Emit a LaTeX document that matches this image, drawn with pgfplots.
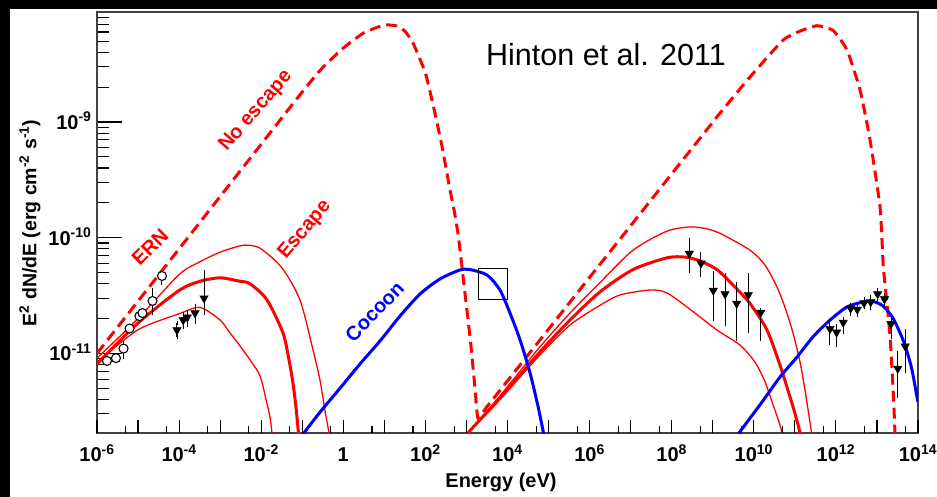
\documentclass[border=0pt]{standalone}
\usepackage{fontspec}
\setmainfont{Liberation Sans}
\usepackage{pgfplots}
\usepackage{pgfplotstable}
\pgfplotsset{compat=1.18}
\definecolor{rootred}{RGB}{255,0,0}
\definecolor{rootblue}{RGB}{0,0,255}
\newcommand{\tp}[1]{10\textsuperscript{#1}}

% data points: x y error+ error-
\pgfplotstableread{
x y ep em
1.75e-6 8.6e-12 0 0
2.90e-6 9.1e-12 0 0
4.43e-6 1.10e-11 1.2e-12 1.7e-12
6.19e-6 1.64e-11 0 0
1.08e-5 2.10e-11 0 0
1.28e-5 2.23e-11 0 0
2.25e-5 2.84e-11 6.9e-12 6.1e-12
3.83e-5 4.67e-11 2.0e-12 6.0e-12
}\circles
\pgfplotstableread{
x y ep em
8.89e-5 1.59e-11 2.4e-12 2.0e-12
1.26e-4 1.94e-11 2.5e-12 2.5e-12
1.58e-4 2.05e-11 2.0e-12 2.7e-12
2.44e-4 2.23e-11 3.4e-12 3.6e-12
4.05e-4 3.0e-11 2.05e-11 7.7e-12
2.69e8 7.3e-11 2.25e-11 2.1e-11
5.17e8 6.0e-11 1.2e-11 1.24e-11
1.03e9 3.5e-11 1.4e-11 1.5e-11
1.99e9 3.26e-11 1.44e-11 1.46e-11
3.83e9 2.7e-11 1.28e-11 1.35e-11
7.35e9 3.2e-11 1.56e-11 1.63e-11
1.47e10 2.25e-11 1.2e-12 9.0e-12
7.18e11 1.63e-11 2.7e-12 3.9e-12
1.04e12 1.52e-11 1.8e-12 3.3e-12
1.51e12 1.85e-11 1.3e-12 3.1e-12
2.29e12 2.45e-11 1.7e-12 2.3e-12
3.32e12 2.40e-11 1.7e-12 2.3e-12
4.84e12 2.73e-11 2.2e-12 2.1e-12
7.05e12 2.78e-11 2.9e-12 3.1e-12
1.04e13 3.26e-11 2.7e-12 3.7e-12
1.53e13 2.95e-11 2.5e-12 3.3e-12
2.20e13 1.80e-11 2.2e-12 4.1e-12
3.21e13 7.4e-12 2.6e-12 3.1e-12
4.88e13 1.15e-11 3.9e-12 4.4e-12
}\triangles

\begin{document}
\begin{tikzpicture}
\fill[white] (0pt,0pt) rectangle (937pt,497pt);
\fill[black] (0pt,0pt) rectangle (10pt,497pt);
\fill[black] (0pt,488pt) rectangle (937pt,497pt);

\begin{axis}[
  at={(97pt,64pt)}, anchor=south west,
  scale only axis, width=821pt, height=421pt,
  xmode=log, ymode=log,
  xmin=1e-6, xmax=1e14, ymin=2.05e-12, ymax=8.93e-9,
  axis line style={line width=1.4pt, draw=black!75},
  tick align=inside, tick pos=left,
  xtick=\empty,
  ytick={1e-11,1e-10,1e-9},
  yticklabels={\tp{-11},\tp{-10},\tp{-9}},
  minor ytick={3e-12,4e-12,5e-12,6e-12,7e-12,8e-12,9e-12,
    2e-11,3e-11,4e-11,5e-11,6e-11,7e-11,8e-11,9e-11,
    2e-10,3e-10,4e-10,5e-10,6e-10,7e-10,8e-10,9e-10,
    2e-9,3e-9,4e-9,5e-9,6e-9,7e-9,8e-9},
  major tick length=25pt, minor tick length=12pt,
  tick style={line width=1.1pt, black},
  yticklabel style={font=\bfseries\fontsize{20}{22}\selectfont, anchor=base east, xshift=-2pt, yshift=-7.5pt},
]
% No escape (dashed)
\addplot[rootred, line width=3pt, dash pattern=on 11pt off 6pt, smooth, tension=0.3] coordinates {
(1e-6,1.0e-11) (1e-5,2.83e-11) (1e-4,8.0e-11) (1e-3,2.27e-10) (1e-2,6.43e-10)
(0.1,1.82e-9) (0.3,2.9e-9) (1,4.36e-9) (3.16,5.9e-9) (10,6.9e-9) (20,6.76e-9)
(31.6,6.1e-9) (50,4.82e-9) (100,2.65e-9) (158,1.35e-9) (251,6.3e-10)
(398,2.58e-10) (501,1.73e-10) (631,1.05e-10) (794,5.26e-11) (1000,2.57e-11)
(1259,1.26e-11) (1585,5.4e-12) (1900,2.76e-12)
(3000,3.38e-12) (1e4,5.79e-12) (1e5,1.62e-11) (1e6,4.54e-11) (1e7,1.27e-10)
(1e8,3.56e-10) (1e9,9.95e-10) (1.27e9,1.11e-9) (8.07e9,2.45e-9) (5.14e10,5.1e-9)
(1.33e11,6.1e-9) (3.47e11,6.8e-9) (8.5e11,6.2e-9) (1.86e12,4.2e-9) (3.86e12,1.9e-9)
(6.78e12,7.0e-10) (1.19e13,1.84e-10) (1.43e13,5.6e-11) (1.76e13,2.7e-11)
(2.08e13,1.41e-11) (2.33e13,7.2e-12) (2.53e13,4.2e-12) (2.75e13,2.05e-12) (2.9e13,1.5e-12)
};
% synchrotron, upper thin
\addplot[rootred, line width=1.3pt, smooth, tension=0.45] coordinates {
(1e-6,9.1e-12) (1e-5,2.0e-11) (1e-4,4.8e-11) (3.23e-4,6.2e-11) (1e-3,7.5e-11)
(3.05e-3,8.5e-11) (5.33e-3,8.6e-11) (1e-2,8.0e-11) (0.032,5.5e-11) (0.088,2.9e-11)
(0.183,1.07e-11) (0.270,5.9e-12) (0.358,3.2e-12) (0.449,2.05e-12) (0.50,1.6e-12)
};
% synchrotron, thick
\addplot[rootred, line width=3pt, smooth, tension=0.45] coordinates {
(1e-6,8.1e-12) (1e-5,1.83e-11) (1e-4,3.5e-11) (3.23e-4,4.2e-11) (1e-3,4.5e-11)
(3.05e-3,4.2e-11) (5.33e-3,4.0e-11) (0.01384,2.9e-11) (0.034,1.5e-11)
(0.0475,8.8e-12) (0.0596,5.5e-12) (0.0705,3.4e-12) (0.081,2.05e-12) (0.088,1.6e-12)
};
% synchrotron, lower thin
\addplot[rootred, line width=1.3pt, smooth, tension=0.45] coordinates {
(1e-6,8.4e-12) (1e-5,1.6e-11) (1e-4,2.2e-11) (3.23e-4,2.5e-11) (1e-3,1.94e-11)
(1.74e-3,1.5e-11) (3.05e-3,1.16e-11) (5.33e-3,8.8e-12) (9.35e-3,6.4e-12)
(0.0131,4.0e-12) (0.0164,2.8e-12) (0.0183,2.05e-12) (0.0194,1.6e-12)
};
% IC, upper thin
\addplot[rootred, line width=1.3pt, smooth, tension=0.45] coordinates {
(975,1.78e-12) (1091,2.05e-12) (6560,4.3e-12) (6.19e4,1.14e-11) (3.33e5,2.23e-11)
(1.79e6,4.1e-11) (1.14e7,7.8e-11) (7.69e7,1.14e-10) (3.30e8,1.24e-10) (1.27e9,1.12e-10)
(8.07e9,7.8e-11) (1.87e10,5.8e-11) (3.67e10,3.75e-11) (5.75e10,2.5e-11) (9.02e10,1.5e-11)
(1.34e11,8.4e-12) (1.77e11,4.8e-12) (2.21e11,2.9e-12) (2.55e11,2.05e-12) (2.85e11,1.6e-12)
};
% IC, thick
\addplot[rootred, line width=3pt, smooth, tension=0.45] coordinates {
(975,1.78e-12) (1091,2.05e-12) (6560,4.1e-12) (6.19e4,1.03e-11) (3.33e5,1.94e-11)
(1.79e6,3.4e-11) (1.14e7,5.3e-11) (7.69e7,6.7e-11) (2.11e8,6.8e-11) (4.89e8,6.3e-11)
(1.27e9,5.3e-11) (3.11e9,3.9e-11) (8.07e9,2.7e-11) (2.10e10,1.59e-11) (4.35e10,7.9e-12)
(7.62e10,4.2e-12) (1.07e11,2.8e-12) (1.34e11,2.05e-12) (1.49e11,1.6e-12)
};
% IC, lower thin
\addplot[rootred, line width=1.3pt, smooth, tension=0.45] coordinates {
(975,1.78e-12) (1091,2.05e-12) (6560,4.0e-12) (6.19e4,9.7e-12) (3.33e5,1.76e-11)
(1.79e6,2.6e-11) (5.51e6,3.2e-11) (2.96e7,3.53e-11) (7.69e7,3.33e-11) (3.30e8,2.3e-11)
(1.27e9,1.59e-11) (4.61e9,1.18e-11) (1.07e10,8.4e-12) (1.87e10,5.7e-12) (2.94e10,3.6e-12)
(4.11e10,2.55e-12) (4.86e10,2.05e-12) (5.44e10,1.6e-12)
};
% Cocoon
\addplot[rootblue, line width=3pt, smooth, tension=0.45] coordinates {
(0.0986,1.9e-12) (0.110,2.05e-12) (0.270,3.1e-12) (0.832,5.0e-12) (2.55,8.1e-12)
(7.83,1.28e-11) (24.0,2.1e-11) (74.0,3.26e-11) (227,4.4e-11) (697,5.26e-11)
(1222,5.3e-11) (3170,4.76e-11) (6560,3.53e-11) (1.15e4,2.23e-11) (2.02e4,1.31e-11)
(3.53e4,6.8e-12) (5.53e4,3.5e-12) (7.53e4,2.05e-12) (8.2e4,1.75e-12)
};
\addplot[rootblue, line width=3pt, smooth, tension=0.45] coordinates {
(3.90e9,1.9e-12) (4.36e9,2.05e-12) (1.42e10,3.6e-12) (4.35e10,6.25e-12) (1.13e11,9.3e-12)
(2.77e11,1.39e-11) (7.18e11,1.94e-11) (1.86e12,2.52e-11) (4.57e12,2.78e-11)
(8.02e12,2.81e-11) (1.40e13,2.57e-11) (2.46e13,2.02e-11) (4.31e13,1.31e-11)
(5.70e13,9.7e-12) (7.14e13,7.2e-12) (9.46e13,4.2e-12) (1e14,3.8e-12)
};
% box
\addplot[black, line width=0.9pt, line join=miter] coordinates {
(1950,2.95e-11) (1e4,2.95e-11) (1e4,5.45e-11) (1950,5.45e-11) (1950,2.95e-11)
};
% error bars
\addplot[only marks, mark=none, error bars/.cd, y dir=both, y explicit,
  error bar style={line width=1pt, black},
  error mark options={line width=1pt, black, mark size=2.3pt}]
  table[x=x, y=y, y error plus=ep, y error minus=em] {\triangles};
\addplot[only marks, mark=none, error bars/.cd, y dir=both, y explicit,
  error bar style={line width=1pt, black},
  error mark options={line width=1pt, black, mark size=2.3pt}]
  table[x=x, y=y, y error plus=ep, y error minus=em] {\circles};
% markers
\addplot[only marks, mark=triangle*, mark size=4.8pt,
  mark options={rotate=180, fill=black, draw=black, line width=0.5pt}]
  table[x=x, y=y] {\triangles};
\addplot[only marks, mark=*, mark size=4.5pt,
  mark options={fill=white, draw=black, line width=1.1pt}]
  table[x=x, y=y] {\circles};
\end{axis}

\begin{axis}[
  at={(97pt,64pt)}, anchor=south west,
  scale only axis, width=821pt, height=421pt,
  xmode=log, ymode=log,
  xmin=1e-6, xmax=1e14, ymin=2.05e-12, ymax=8.93e-9,
  axis line style={draw=none},
  tick align=inside, tick pos=left,
  ytick=\empty,
  xtick={1e-6,1e-5,1e-4,1e-3,1e-2,1e-1,1,1e1,1e2,1e3,1e4,1e5,1e6,1e7,1e8,1e9,1e10,1e11,1e12,1e13,1e14},
  xticklabels={\tp{-6},,\tp{-4},,\tp{-2},,1,,\tp{2},,\tp{4},,\tp{6},,\tp{8},,\tp{10},,\tp{12},,\tp{14}},
  minor xtick={5e-6,5e-5,5e-4,5e-3,5e-2,5e-1,5,5e1,5e2,5e3,5e4,5e5,5e6,5e7,5e8,5e9,5e10,5e11,5e12,5e13},
  major tick length=12.7pt, minor tick length=6.7pt,
  tick style={line width=1.1pt, black},
  xticklabel style={font=\bfseries\fontsize{20}{22}\selectfont, anchor=base, yshift=-28.7pt},
]
\end{axis}

\node[rotate=90, font=\bfseries\fontsize{19.5}{22}\selectfont] at (30pt,274pt)
  {E\textsuperscript{2} dN/dE (erg cm\textsuperscript{-2} s\textsuperscript{-1})};
\node[font=\bfseries\fontsize{20}{22}\selectfont] at (501pt,15pt) {Energy (eV)};
\node[rotate=49, text=rootred, font=\bfseries\fontsize{20}{22}\selectfont] at (256pt,386pt) {No escape};
\node[rotate=45, text=rootred, font=\bfseries\fontsize{20}{22}\selectfont] at (150pt,250pt) {ERN};
\node[rotate=50, text=rootred, font=\bfseries\fontsize{20}{22}\selectfont] at (305pt,267pt) {Escape};
\node[rotate=46, text=rootblue, font=\bfseries\fontsize{20}{22}\selectfont] at (374.5pt,185.5pt) {Cocoon};
\node[font=\fontsize{30.5}{34}\selectfont] at (606pt,442pt) {Hinton et al. 2011};

\pgfresetboundingbox
\path[use as bounding box] (0pt,0pt) rectangle (937pt,497pt);
\end{tikzpicture}
\end{document}
